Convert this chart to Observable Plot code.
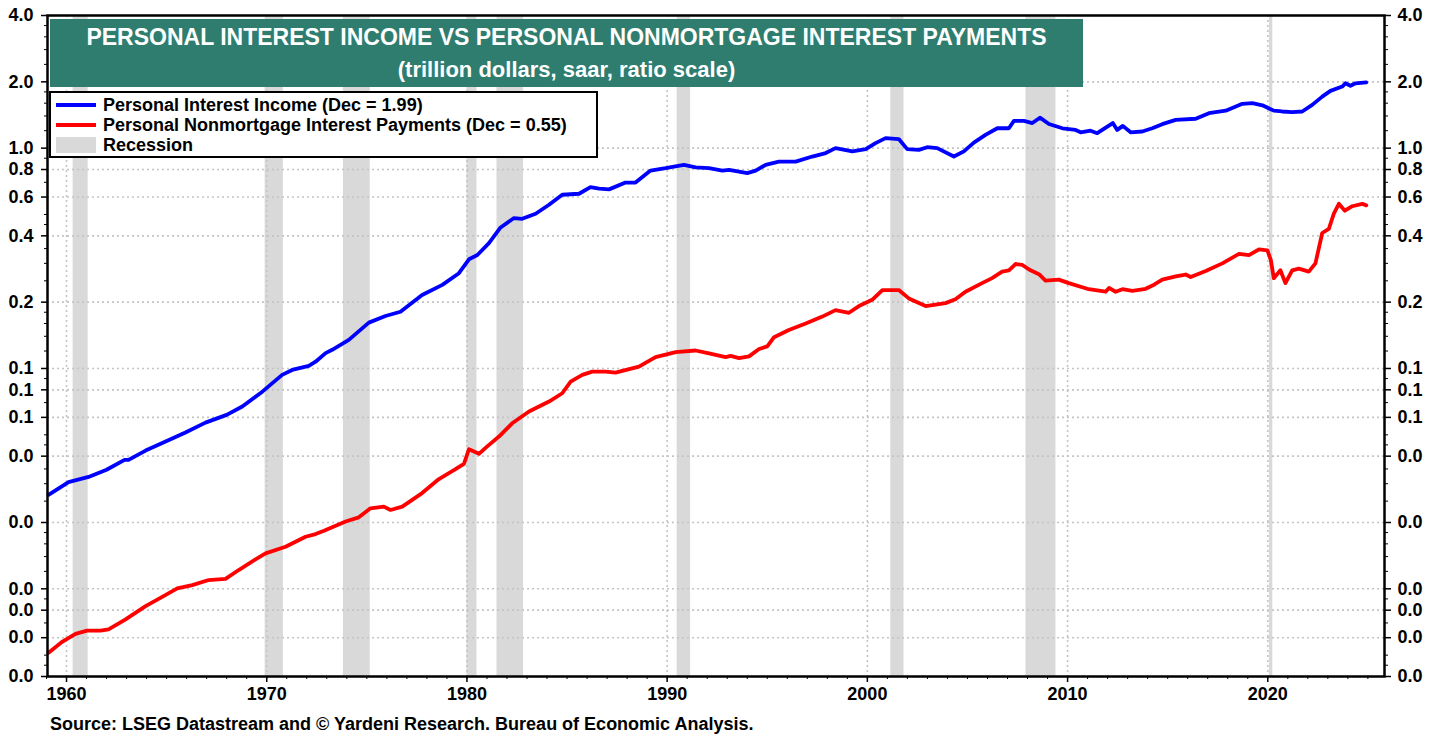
<!DOCTYPE html>
<html>
<head>
<meta charset="utf-8">
<script src="https://cdn.jsdelivr.net/npm/d3@7"></script>
<script src="https://cdn.jsdelivr.net/npm/@observablehq/plot@0.6"></script>
<style>
  html, body { margin: 0; padding: 0; background: #fff; }
  body { font-family: "Liberation Sans", Arial, Helvetica, sans-serif; }
  #wrap { position: relative; width: 1441px; height: 740px; overflow: hidden; }
  #chart { position: absolute; left: 0; top: 0; }
  #titlebox { position: absolute; left: 50px; top: 19px; width: 1033px; height: 68px; background: #2e7d6f; color: #fff; font-weight: bold; text-align: center; }
  #titlebox .t1 { position: absolute; left: 0; right: 0; top: 5px; font-size: 23px; line-height: 26px; }
  #titlebox .t2 { position: absolute; left: 0; right: 0; top: 38px; font-size: 22px; line-height: 25px; }
  #legend { position: absolute; left: 49px; top: 91px; width: 545px; height: 63px; background: #fff; border: 2px solid #000; font-weight: bold; font-size: 18px; }
  #legend .row { position: absolute; left: 0; height: 20px; }
  #legend .sw { position: absolute; left: 5px; width: 40px; }
  #legend .lab { position: absolute; left: 52px; top: 0; white-space: nowrap; line-height: 20px; color: #000; }
  #caption { position: absolute; left: 50px; top: 714px; font-size: 18px; font-weight: bold; color: #000; white-space: nowrap; }
</style>
</head>
<body>
<div id="wrap">
  <div id="chart"></div>
  <div id="titlebox"><div class="t1"></div><div class="t2"></div></div>
  <div id="legend"></div>
  <div id="caption"></div>
</div>
<script>
// ---------- Text ----------
const titleText = "PERSONAL INTEREST INCOME VS PERSONAL NONMORTGAGE INTEREST PAYMENTS";
const subtitleText = "(trillion dollars, saar, ratio scale)";
const captionText = "Source: LSEG Datastream and © Yardeni Research. Bureau of Economic Analysis.";
const seriesNames = ["Personal Interest Income (Dec = 1.99)", "Personal Nonmortgage Interest Payments (Dec = 0.55)", "Recession"];

// ---------- Data (trillion dollars) ----------
const incomeYears = [1959.1,1960.1,1961.1,1962.0,1962.9,1963.1,1963.95,1964.95,1965.94,1966.94,1968.0,1968.78,1969.78,1970.77,1971.27,1972.1,1972.44,1972.94,1973.27,1974.1,1975.1,1975.93,1976.68,1977.76,1978.77,1979.6,1980.1,1980.52,1981.1,1981.68,1982.35,1982.76,1983.43,1984.1,1984.76,1985.6,1986.17,1986.6,1987.1,1987.92,1988.42,1989.17,1989.92,1990.84,1991.42,1992.09,1992.76,1993.09,1993.59,1994.0,1994.42,1994.92,1995.58,1996.42,1997.25,1997.92,1998.41,1999.25,1999.92,2000.41,2000.91,2001.57,2001.99,2002.57,2002.99,2003.49,2004.32,2004.82,2005.32,2005.9,2006.49,2007.07,2007.32,2007.82,2008.24,2008.62,2009.07,2009.74,2010.4,2010.65,2011.15,2011.48,2012.26,2012.48,2012.76,2013.15,2013.73,2014.23,2014.73,2015.4,2016.4,2017.06,2017.9,2018.73,2019.23,2019.73,2020.3,2020.72,2021.22,2021.72,2022.22,2022.72,2023.13,2023.72,2023.88,2024.13,2024.38,2024.92];
const incomeValues = [0.0267,0.0305,0.0322,0.0347,0.0385,0.0385,0.0424,0.0466,0.0512,0.0568,0.0616,0.0672,0.0785,0.0935,0.0985,0.1028,0.1073,0.1174,0.1216,0.1349,0.1615,0.173,0.181,0.2156,0.2396,0.2706,0.313,0.3275,0.3706,0.4365,0.4816,0.478,0.5036,0.5536,0.6144,0.621,0.6657,0.655,0.650,0.698,0.698,0.791,0.811,0.840,0.818,0.811,0.791,0.797,0.783,0.770,0.791,0.840,0.869,0.869,0.916,0.950,1.0,0.967,0.99,1.054,1.110,1.10,0.99,0.982,1.01,1.0,0.916,0.967,1.06,1.149,1.231,1.231,1.329,1.33,1.30,1.375,1.288,1.231,1.21,1.18,1.20,1.169,1.30,1.21,1.262,1.18,1.19,1.231,1.285,1.343,1.36,1.441,1.48,1.589,1.60,1.565,1.48,1.467,1.456,1.467,1.572,1.714,1.82,1.903,1.97,1.92,1.97,1.99];

const paymentYears = [1959.1,1959.8,1960.45,1961.03,1961.7,1962.1,1962.95,1963.95,1964.78,1965.53,1966.28,1967.1,1967.94,1968.6,1969.44,1969.94,1970.94,1971.94,1972.44,1972.86,1973.94,1974.6,1975.18,1975.85,1976.18,1976.77,1977.76,1978.6,1979.43,1979.85,1980.1,1980.6,1981.0,1981.6,1982.26,1983.1,1984.1,1984.76,1985.18,1985.76,1986.26,1986.92,1987.42,1988.59,1989.42,1990.42,1991.42,1992.09,1992.92,1993.17,1993.59,1994.09,1994.59,1995.0,1995.34,1996.08,1996.92,1997.75,1998.41,1999.08,1999.58,2000.24,2000.75,2001.57,2002.07,2002.91,2003.9,2004.4,2004.9,2005.73,2006.23,2006.73,2007.07,2007.4,2007.74,2008.15,2008.57,2008.9,2009.56,2010.06,2011.06,2011.9,2012.07,2012.4,2012.74,2013.24,2013.9,2014.32,2014.73,2015.4,2015.9,2016.15,2016.9,2017.73,2018.56,2019.06,2019.56,2019.98,2020.15,2020.3,2020.63,2020.88,2021.22,2021.55,2022.05,2022.38,2022.72,2023.05,2023.3,2023.55,2023.85,2024.22,2024.72,2024.92];
const paymentValues = [0.00513,0.00576,0.00625,0.00646,0.00646,0.00655,0.00727,0.00835,0.0092,0.01004,0.0104,0.01096,0.0111,0.01217,0.0136,0.01448,0.01552,0.01723,0.01772,0.01834,0.0202,0.0211,0.0232,0.0236,0.0228,0.0236,0.0272,0.0315,0.0349,0.0369,0.0430,0.0410,0.0442,0.0491,0.0564,0.0638,0.0708,0.0772,0.0872,0.0935,0.0968,0.0968,0.0957,0.102,0.1126,0.1187,0.1207,0.117,0.1126,0.114,0.1114,0.1135,0.1225,0.126,0.1387,0.1496,0.160,0.172,0.184,0.179,0.192,0.205,0.227,0.227,0.208,0.192,0.198,0.206,0.223,0.244,0.257,0.275,0.279,0.298,0.295,0.279,0.268,0.2506,0.253,0.244,0.229,0.223,0.232,0.223,0.229,0.225,0.230,0.240,0.253,0.262,0.267,0.26,0.277,0.30,0.331,0.327,0.347,0.344,0.311,0.257,0.279,0.244,0.279,0.284,0.275,0.30,0.412,0.43,0.504,0.559,0.52,0.545,0.559,0.55];

const recessionStarts = [1960.33,1969.92,1973.83,1980.0,1981.5,1990.5,2001.17,2007.92,2020.08];
const recessionEnds   = [1961.08,1970.83,1975.17,1980.5,1982.83,1991.17,2001.83,2009.42,2020.25];

// ---------- Ticks ----------
const yTickValues = [4,2,1,0.8,0.6,0.4,0.2,0.1,0.08,0.06,0.04,0.02,0.01,0.008,0.006,0.004];
const yMinorValues = [3.6,3.2,2.8,2.4,1.8,1.6,1.4,1.2,0.9,0.7,0.5,0.45,0.35,0.3,0.25,0.18,0.16,0.14,0.12,0.09,0.07,0.05,0.045,0.035,0.03,0.025,0.018,0.016,0.014,0.012,0.009,0.007,0.005,0.0045];
const xTickValues = [1960,1970,1980,1990,2000,2010,2020];
const xMinorValues = d3.range(1959, 2026);

// ---------- Build ----------
const income = incomeYears.map((x, i) => ({x, y: incomeValues[i]}));
const payments = paymentYears.map((x, i) => ({x, y: paymentValues[i]}));
const recessions = recessionStarts.map((s, i) => ({start: s, end: recessionEnds[i]}));
const fmt = d => d.toFixed(1);

const chart = Plot.plot({
  width: 1441,
  height: 708,
  marginLeft: 47,
  marginRight: 57,
  marginTop: 15,
  marginBottom: 32,
  style: {fontFamily: '"Liberation Sans", Arial, sans-serif', fontSize: "18px", fontWeight: "bold", color: "#000", background: "transparent", overflow: "visible"},
  x: {domain: [1959.05, 2025.83], axis: null},
  y: {type: "log", domain: [0.004, 4], axis: null},
  marks: [
    Plot.rect(recessions, {x1: "start", x2: "end", fill: "#d9d9d9"}),
    Plot.gridY(yTickValues, {stroke: "#c4c4c4", strokeOpacity: 1, strokeWidth: 1.6, strokeDasharray: "2,3"}),
    Plot.gridX(xTickValues, {stroke: "#c4c4c4", strokeOpacity: 1, strokeWidth: 1.6, strokeDasharray: "2,3"}),
    Plot.line(income, {x: "x", y: "y", stroke: "#0000ff", strokeWidth: 3.8, curve: "linear"}),
    Plot.line(payments, {x: "x", y: "y", stroke: "#ff0000", strokeWidth: 3.8, curve: "linear"}),
    Plot.frame({stroke: "#000", strokeWidth: 2.5}),
    Plot.axisY({anchor: "left", ticks: yTickValues, tickFormat: () => "", tickSize: 6, strokeWidth: 1.5, label: null}),
    Plot.axisY({anchor: "left", ticks: yMinorValues, tickFormat: () => "", tickSize: 3, strokeWidth: 1, label: null}),
    Plot.axisY({anchor: "right", ticks: yTickValues, tickFormat: () => "", tickSize: 6, strokeWidth: 1.5, label: null}),
    Plot.axisY({anchor: "right", ticks: yMinorValues, tickFormat: () => "", tickSize: 3, strokeWidth: 1, label: null}),
    Plot.text(yTickValues, {y: d => d, text: fmt, frameAnchor: "left", dx: -14, textAnchor: "end", fontSize: 18, fontWeight: "bold", fill: "#000"}),
    Plot.text(yTickValues, {y: d => d, text: fmt, frameAnchor: "right", dx: 13, textAnchor: "start", fontSize: 18, fontWeight: "bold", fill: "#000"}),
    Plot.axisX({anchor: "bottom", ticks: xTickValues, tickFormat: d => String(d), tickSize: 6, tickPadding: 5, strokeWidth: 1.5, fontSize: 18, label: null}),
    Plot.axisX({anchor: "bottom", ticks: xMinorValues, tickFormat: () => "", tickSize: 3, strokeWidth: 1, label: null})
  ]
});
document.getElementById("chart").appendChild(chart);

// ---------- Title, legend, caption ----------
document.querySelector("#titlebox .t1").textContent = titleText;
document.querySelector("#titlebox .t2").textContent = subtitleText;
document.getElementById("caption").textContent = captionText;

const legendColors = ["#0000ff", "#ff0000", "#d9d9d9"];
const legend = document.getElementById("legend");
seriesNames.forEach((name, i) => {
  const row = document.createElement("div");
  row.className = "row";
  row.style.top = (2 + i * 20) + "px";
  const sw = document.createElement("div");
  sw.className = "sw";
  if (i < 2) { sw.style.top = "8px"; sw.style.height = "4px"; }
  else { sw.style.top = "2px"; sw.style.height = "16px"; }
  sw.style.background = legendColors[i];
  const lab = document.createElement("div");
  lab.className = "lab";
  lab.textContent = name;
  row.appendChild(sw);
  row.appendChild(lab);
  legend.appendChild(row);
});
</script>
</body>
</html>
